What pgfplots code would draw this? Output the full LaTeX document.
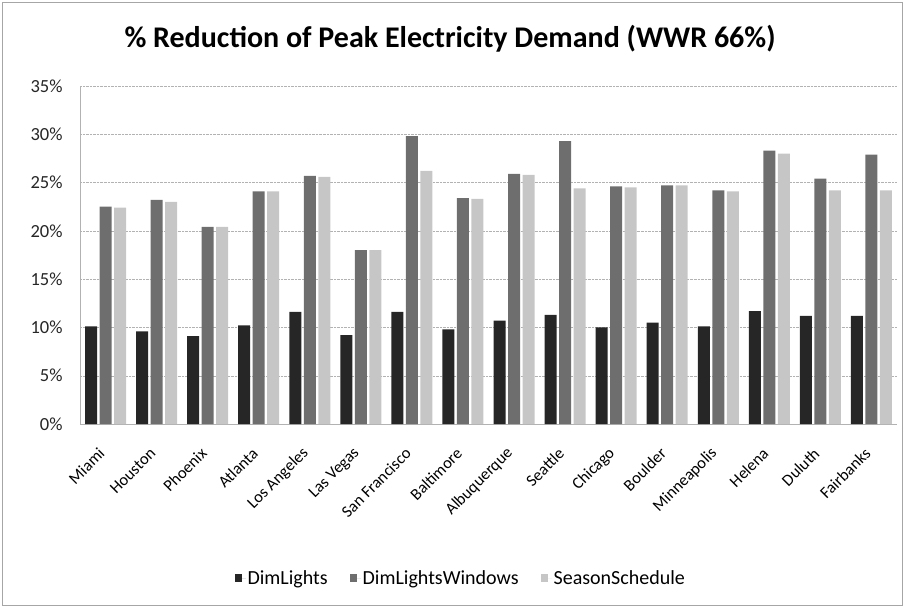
\documentclass[border=0pt]{standalone}
\usepackage{fontspec}
\setmainfont{Carlito}
\usepackage{pgfplots}
\pgfplotsset{compat=1.18}
\definecolor{cDark}{HTML}{262626}
\definecolor{cMid}{HTML}{6E6E6E}
\definecolor{cLight}{HTML}{C6C6C6}
\begin{document}
\begin{tikzpicture}
\path (-80bp,-183bp) rectangle (824bp,424bp);
\draw[gray!70, line width=0.8bp] (-78bp,-181bp) rectangle (822bp,422bp);
\begin{axis}[
  at={(0,0)}, anchor=south west,
  scale only axis, width=817bp, height=338bp,
  ybar=2.5bp, bar width=12bp,
  xmin=-0.5, xmax=15.5, ymin=0, ymax=35,
  xtick={0,...,15},
  xticklabels={Miami,Houston,Phoenix,Atlanta,Los Angeles,Las Vegas,San Francisco,Baltimore,Albuquerque,Seattle,Chicago,Boulder,Minneapolis,Helena,Duluth,Fairbanks},
  x tick label style={xshift=-3bp, yshift=-26bp, rotate=45, anchor=east, font=\fontsize{16.5bp}{18bp}\selectfont, inner sep=1bp},
  ytick={0,5,...,35},
  yticklabel={\pgfmathprintnumber{\tick}\%},
  y tick label style={font=\fontsize{18.5bp}{20bp}\selectfont, color=black!85, xshift=-14bp},
  /pgf/number format/assume math mode=true,
  ymajorgrids, grid style={densely dotted, gray!60},
  axis x line*=bottom, axis y line*=left,
  axis line style={gray!60},
  major tick length=0pt,
  title={\textbf{\% Reduction of Peak Electricity Demand (WWR 66\%)}},
  title style={at={(0.453,1)}, anchor=center, yshift=41bp, font=\fontsize{30bp}{32bp}\selectfont},
  legend style={draw=none, legend columns=-1, at={(0.466,-0.456)}, anchor=center,
    font=\fontsize{20bp}{21bp}\selectfont,
    /tikz/every even column/.append style={column sep=20bp}},
  legend image code/.code={\fill[#1] (0bp,-4bp) rectangle (7bp,4bp); \path (0bp,0bp) rectangle (11bp,0bp);},
]
\addplot[fill=cDark, draw=none] coordinates {(0,10.1) (1,9.6) (2,9.1) (3,10.2) (4,11.6) (5,9.2) (6,11.6) (7,9.8) (8,10.7) (9,11.3) (10,10.0) (11,10.5) (12,10.1) (13,11.7) (14,11.2) (15,11.2)};
\addplot[fill=cMid, draw=none] coordinates {(0,22.5) (1,23.2) (2,20.4) (3,24.1) (4,25.7) (5,18.0) (6,29.8) (7,23.4) (8,25.9) (9,29.3) (10,24.6) (11,24.7) (12,24.2) (13,28.3) (14,25.4) (15,27.9)};
\addplot[fill=cLight, draw=none] coordinates {(0,22.4) (1,23.0) (2,20.4) (3,24.1) (4,25.6) (5,18.0) (6,26.2) (7,23.3) (8,25.8) (9,24.4) (10,24.5) (11,24.7) (12,24.1) (13,28.0) (14,24.2) (15,24.2)};
\legend{DimLights, DimLightsWindows, SeasonSchedule}
\end{axis}
\end{tikzpicture}
\end{document}
